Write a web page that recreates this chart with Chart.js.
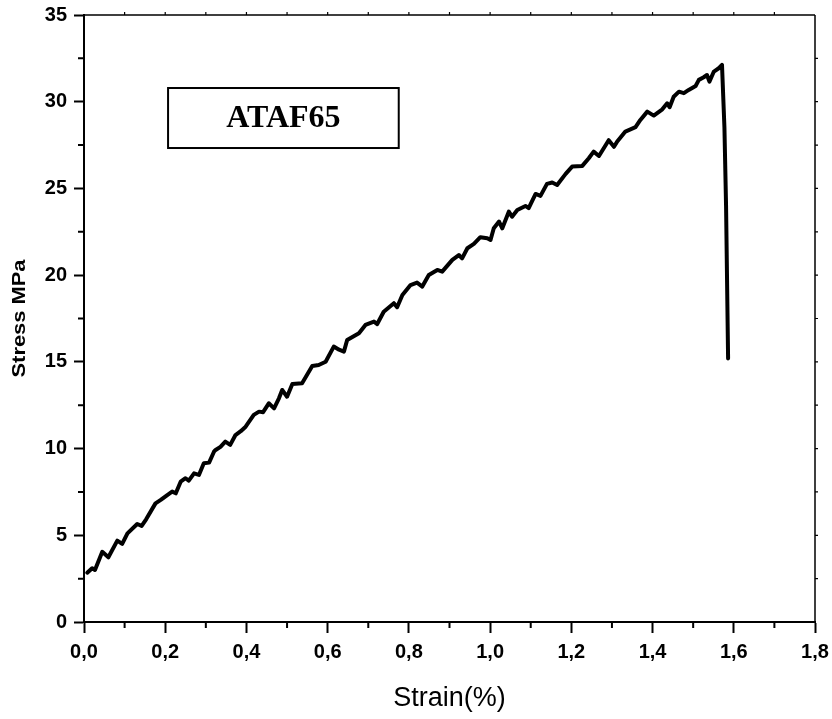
<!DOCTYPE html>
<html><head><meta charset="utf-8">
<script src="https://cdn.jsdelivr.net/npm/chart.js@4.4.0/dist/chart.umd.min.js"></script>
<style>html,body{margin:0;padding:0;background:#fff}canvas{display:block}</style>
</head><body>
<canvas id="c" width="832" height="719"></canvas>
<script>
// ---- data ----
const strain = [0.008,0.020,0.027,0.045,0.060,0.082,0.094,0.107,0.131,0.142,0.153,0.176,0.189,0.205,0.217,0.226,0.238,0.250,0.258,0.271,0.283,0.295,0.308,0.320,0.324,0.336,0.348,0.360,0.373,0.386,0.398,0.418,0.431,0.441,0.455,0.468,0.480,0.488,0.500,0.513,0.537,0.562,0.578,0.595,0.615,0.628,0.640,0.648,0.677,0.693,0.714,0.722,0.738,0.763,0.771,0.784,0.804,0.820,0.833,0.849,0.870,0.882,0.907,0.923,0.931,0.944,0.960,0.976,0.993,1.001,1.009,1.022,1.030,1.046,1.054,1.067,1.087,1.095,1.112,1.124,1.140,1.153,1.165,1.186,1.202,1.227,1.243,1.255,1.268,1.292,1.305,1.313,1.333,1.358,1.370,1.387,1.403,1.424,1.436,1.442,1.452,1.465,1.477,1.489,1.506,1.514,1.526,1.534,1.540,1.551,1.563,1.571,1.577,1.581,1.586];
const stress = [2.84,3.10,3.00,4.05,3.73,4.69,4.50,5.11,5.65,5.54,5.92,6.84,7.04,7.32,7.52,7.42,8.09,8.29,8.15,8.57,8.48,9.15,9.19,9.82,9.92,10.10,10.40,10.21,10.78,11.00,11.26,11.94,12.13,12.10,12.61,12.32,12.90,13.38,12.99,13.72,13.76,14.76,14.82,15.01,15.88,15.70,15.59,16.26,16.65,17.13,17.32,17.18,17.89,18.38,18.15,18.86,19.43,19.57,19.34,20.01,20.30,20.20,20.88,21.16,20.97,21.55,21.80,22.19,22.13,22.03,22.70,23.09,22.70,23.66,23.37,23.76,23.99,23.86,24.68,24.57,25.26,25.34,25.20,25.84,26.26,26.30,26.74,27.12,26.87,27.78,27.40,27.71,28.28,28.53,28.95,29.43,29.20,29.56,29.91,29.68,30.29,30.58,30.49,30.68,30.91,31.26,31.41,31.54,31.16,31.74,31.93,32.12,28.50,24.00,15.20];
const xTickValues = [0,0.2,0.4,0.6,0.8,1.0,1.2,1.4,1.6,1.8];
const yTickValues = [0,5,10,15,20,25,30,35];
const xTitle = 'Strain(%)';
const yTitle = 'Stress MPa';
const sampleLabel = 'ATAF65';
const labelBox = {x0:0.207, x1:0.775, y0:30.79, y1:27.33};

const points = strain.map((s,i)=>({x:s,y:stress[i]}));

const framePlugin = {
  id:'frame',
  afterDraw(chart){
    const {ctx, chartArea:a, scales:{x,y}} = chart;
    ctx.save();
    ctx.strokeStyle='#000';
    ctx.lineWidth=1.5;
    ctx.beginPath();
    ctx.moveTo(a.left,a.top);ctx.lineTo(a.right,a.top);
    ctx.moveTo(a.right,a.top);ctx.lineTo(a.right,a.bottom);
    ctx.stroke();
    ctx.lineWidth=2;
    ctx.beginPath();
    for(let i=0;i<xTickValues.length-1;i++){
      const v=(xTickValues[i]+xTickValues[i+1])/2;
      const px=x.getPixelForValue(v);
      ctx.moveTo(px,a.bottom);ctx.lineTo(px,a.bottom+6);
    }
    for(let i=0;i<yTickValues.length-1;i++){
      const v=(yTickValues[i]+yTickValues[i+1])/2;
      const py=y.getPixelForValue(v);
      ctx.moveTo(a.left,py);ctx.lineTo(a.left-6,py);
    }
    ctx.stroke();
    ctx.lineWidth=1.2;
    ctx.beginPath();
    for(let v=0.1; v<1.8; v+=0.1){
      const px=x.getPixelForValue(v);
      ctx.moveTo(px,a.top);ctx.lineTo(px,a.top-3);
    }
    for(let v=2.5; v<35; v+=2.5){
      const py=y.getPixelForValue(v);
      ctx.moveTo(a.right,py);ctx.lineTo(a.right+3,py);
    }
    ctx.stroke();
    const bx0=x.getPixelForValue(labelBox.x0), bx1=x.getPixelForValue(labelBox.x1);
    const by0=y.getPixelForValue(labelBox.y0), by1=y.getPixelForValue(labelBox.y1);
    ctx.lineWidth=2;
    ctx.strokeRect(bx0,by0,bx1-bx0,by1-by0);
    ctx.fillStyle='#000';
    ctx.font='bold 32px "Liberation Serif", "Times New Roman", serif';
    ctx.textAlign='center';ctx.textBaseline='middle';
    ctx.fillText(sampleLabel,(bx0+bx1)/2,(by0+by1)/2+1);
    ctx.font='27px "Liberation Sans", Arial, sans-serif';
    ctx.textAlign='center';ctx.textBaseline='alphabetic';
    ctx.fillText(xTitle,(a.left+a.right)/2,706);
    ctx.save();
    ctx.translate(25,(a.top+a.bottom)/2);
    ctx.rotate(-Math.PI/2);
    ctx.font='bold 18px "Liberation Sans", Arial, sans-serif';
    const w=ctx.measureText(yTitle).width;
    ctx.scale(118/w,1);
    ctx.textAlign='center';ctx.textBaseline='alphabetic';
    ctx.fillText(yTitle,0,0);
    ctx.restore();
    ctx.restore();
  }
};

new Chart(document.getElementById('c'),{
  type:'line',
  data:{datasets:[{data:points,borderColor:'#000',borderWidth:4,pointRadius:0,tension:0,
    borderJoinStyle:'round',borderCapStyle:'round',fill:false}]},
  options:{
    responsive:false,animation:false,devicePixelRatio:1,
    layout:{padding:{top:15,right:17,left:0,bottom:0}},
    plugins:{legend:{display:false},tooltip:{enabled:false}},
    scales:{
      x:{type:'linear',min:0,max:1.8,
        afterBuildTicks(s){s.ticks=xTickValues.map(v=>({value:v}));},
        afterFit(s){s.height=97;s.paddingLeft=0;s.paddingRight=0;},
        ticks:{color:'#000',padding:7,maxRotation:0,autoSkip:false,
          font:{family:'"Liberation Sans", Arial, sans-serif',size:20,weight:'bold'},
          callback:v=>v.toFixed(1).replace('.',',')},
        grid:{drawOnChartArea:false,drawTicks:true,tickLength:11,tickWidth:2,tickColor:'#000'},
        border:{color:'#000',width:2}},
      y:{type:'linear',min:0,max:35,
        afterBuildTicks(s){s.ticks=yTickValues.map(v=>({value:v}));},
        afterFit(s){s.width=84;s.paddingTop=0;s.paddingBottom=0;},
        ticks:{color:'#000',padding:7,autoSkip:false,
          font:{family:'"Liberation Sans", Arial, sans-serif',size:20,weight:'bold'},
          callback:v=>String(v)},
        grid:{drawOnChartArea:false,drawTicks:true,tickLength:10,tickWidth:2,tickColor:'#000'},
        border:{color:'#000',width:2}}
    }
  },
  plugins:[framePlugin]
});
</script>
</body></html>
